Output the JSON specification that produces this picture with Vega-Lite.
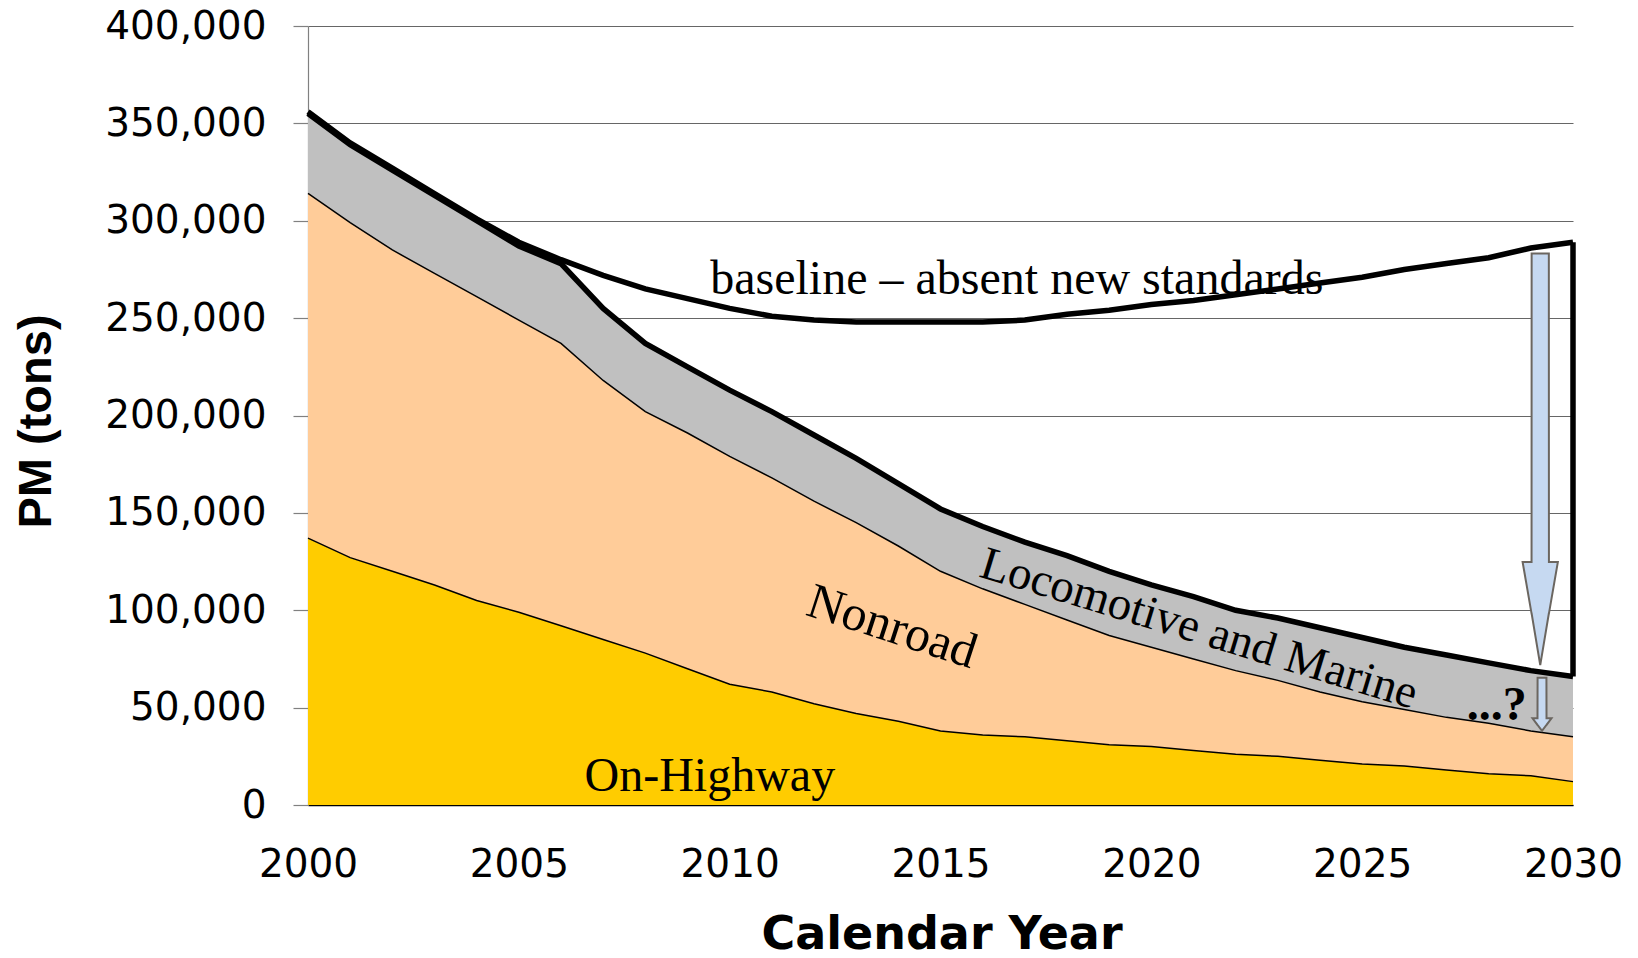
{
  "$schema": "https://vega.github.io/schema/vega-lite/v6.json",
  "width": 1265,
  "height": 779,
  "autosize": {"type": "none"},
  "padding": {"left": 308, "top": 26, "right": 65, "bottom": 153},
  "background": "white",
  "config": {"view": {"stroke": null}},
  "datasets": {
    "emissions": [
      {"year":2000,"source":"On-Highway","tons":137000},{"year":2000,"source":"Nonroad","tons":177000},{"year":2000,"source":"Locomotive and Marine","tons":41000},
      {"year":2001,"source":"On-Highway","tons":127000},{"year":2001,"source":"Nonroad","tons":172000},{"year":2001,"source":"Locomotive and Marine","tons":40000},
      {"year":2002,"source":"On-Highway","tons":120000},{"year":2002,"source":"Nonroad","tons":165000},{"year":2002,"source":"Locomotive and Marine","tons":41000},
      {"year":2003,"source":"On-Highway","tons":113000},{"year":2003,"source":"Nonroad","tons":160000},{"year":2003,"source":"Locomotive and Marine","tons":40000},
      {"year":2004,"source":"On-Highway","tons":105000},{"year":2004,"source":"Nonroad","tons":156000},{"year":2004,"source":"Locomotive and Marine","tons":39000},
      {"year":2005,"source":"On-Highway","tons":99000},{"year":2005,"source":"Nonroad","tons":150000},{"year":2005,"source":"Locomotive and Marine","tons":38000},
      {"year":2006,"source":"On-Highway","tons":92000},{"year":2006,"source":"Nonroad","tons":145000},{"year":2006,"source":"Locomotive and Marine","tons":41000},
      {"year":2007,"source":"On-Highway","tons":85000},{"year":2007,"source":"Nonroad","tons":133000},{"year":2007,"source":"Locomotive and Marine","tons":37000},
      {"year":2008,"source":"On-Highway","tons":78000},{"year":2008,"source":"Nonroad","tons":124000},{"year":2008,"source":"Locomotive and Marine","tons":35000},
      {"year":2009,"source":"On-Highway","tons":70000},{"year":2009,"source":"Nonroad","tons":121000},{"year":2009,"source":"Locomotive and Marine","tons":34000},
      {"year":2010,"source":"On-Highway","tons":62000},{"year":2010,"source":"Nonroad","tons":117000},{"year":2010,"source":"Locomotive and Marine","tons":34000},
      {"year":2011,"source":"On-Highway","tons":58000},{"year":2011,"source":"Nonroad","tons":110000},{"year":2011,"source":"Locomotive and Marine","tons":34000},
      {"year":2012,"source":"On-Highway","tons":52000},{"year":2012,"source":"Nonroad","tons":104000},{"year":2012,"source":"Locomotive and Marine","tons":34000},
      {"year":2013,"source":"On-Highway","tons":47000},{"year":2013,"source":"Nonroad","tons":98000},{"year":2013,"source":"Locomotive and Marine","tons":33000},
      {"year":2014,"source":"On-Highway","tons":43000},{"year":2014,"source":"Nonroad","tons":90000},{"year":2014,"source":"Locomotive and Marine","tons":32000},
      {"year":2015,"source":"On-Highway","tons":38000},{"year":2015,"source":"Nonroad","tons":82000},{"year":2015,"source":"Locomotive and Marine","tons":32000},
      {"year":2016,"source":"On-Highway","tons":36000},{"year":2016,"source":"Nonroad","tons":75000},{"year":2016,"source":"Locomotive and Marine","tons":32000},
      {"year":2017,"source":"On-Highway","tons":35000},{"year":2017,"source":"Nonroad","tons":68000},{"year":2017,"source":"Locomotive and Marine","tons":32000},
      {"year":2018,"source":"On-Highway","tons":33000},{"year":2018,"source":"Nonroad","tons":62000},{"year":2018,"source":"Locomotive and Marine","tons":33000},
      {"year":2019,"source":"On-Highway","tons":31000},{"year":2019,"source":"Nonroad","tons":56000},{"year":2019,"source":"Locomotive and Marine","tons":33000},
      {"year":2020,"source":"On-Highway","tons":30000},{"year":2020,"source":"Nonroad","tons":51000},{"year":2020,"source":"Locomotive and Marine","tons":32000},
      {"year":2021,"source":"On-Highway","tons":28000},{"year":2021,"source":"Nonroad","tons":47000},{"year":2021,"source":"Locomotive and Marine","tons":32000},
      {"year":2022,"source":"On-Highway","tons":26000},{"year":2022,"source":"Nonroad","tons":43000},{"year":2022,"source":"Locomotive and Marine","tons":31000},
      {"year":2023,"source":"On-Highway","tons":25000},{"year":2023,"source":"Nonroad","tons":39000},{"year":2023,"source":"Locomotive and Marine","tons":32000},
      {"year":2024,"source":"On-Highway","tons":23000},{"year":2024,"source":"Nonroad","tons":35000},{"year":2024,"source":"Locomotive and Marine","tons":33000},
      {"year":2025,"source":"On-Highway","tons":21000},{"year":2025,"source":"Nonroad","tons":32000},{"year":2025,"source":"Locomotive and Marine","tons":33000},
      {"year":2026,"source":"On-Highway","tons":20000},{"year":2026,"source":"Nonroad","tons":29000},{"year":2026,"source":"Locomotive and Marine","tons":32000},
      {"year":2027,"source":"On-Highway","tons":18000},{"year":2027,"source":"Nonroad","tons":27000},{"year":2027,"source":"Locomotive and Marine","tons":32000},
      {"year":2028,"source":"On-Highway","tons":16000},{"year":2028,"source":"Nonroad","tons":26000},{"year":2028,"source":"Locomotive and Marine","tons":31000},
      {"year":2029,"source":"On-Highway","tons":15000},{"year":2029,"source":"Nonroad","tons":23000},{"year":2029,"source":"Locomotive and Marine","tons":31000},
      {"year":2030,"source":"On-Highway","tons":12000},{"year":2030,"source":"Nonroad","tons":23000},{"year":2030,"source":"Locomotive and Marine","tons":31000}
    ],
    "baseline": [
      {"year":2000,"tons":356000},{"year":2001,"tons":340000},{"year":2002,"tons":327000},{"year":2003,"tons":314000},
      {"year":2004,"tons":301000},{"year":2005,"tons":289000},{"year":2006,"tons":280000},{"year":2007,"tons":272000},
      {"year":2008,"tons":265000},{"year":2009,"tons":260000},{"year":2010,"tons":255000},{"year":2011,"tons":251000},
      {"year":2012,"tons":249000},{"year":2013,"tons":248000},{"year":2014,"tons":248000},{"year":2015,"tons":248000},
      {"year":2016,"tons":248000},{"year":2017,"tons":249000},{"year":2018,"tons":252000},{"year":2019,"tons":254000},
      {"year":2020,"tons":257000},{"year":2021,"tons":259000},{"year":2022,"tons":262000},{"year":2023,"tons":265000},
      {"year":2024,"tons":268000},{"year":2025,"tons":271000},{"year":2026,"tons":275000},{"year":2027,"tons":278000},
      {"year":2028,"tons":281000},{"year":2029,"tons":286000},{"year":2030,"tons":289000}
    ],
    "closing": [{"year":2030,"tons":289000,"tons2":66000}],
    "bigArrow": [
      {"year":2028.805,"tons":124800,"tons2":124800},
      {"year":2029.017,"tons":124800,"tons2":98300},
      {"year":2029.019,"tons":283200,"tons2":98300},
      {"year":2029.223,"tons":283200,"tons2":71800},
      {"year":2029.427,"tons":283200,"tons2":98300},
      {"year":2029.429,"tons":124800,"tons2":98300},
      {"year":2029.641,"tons":124800,"tons2":124800}
    ],
    "smallArrow": [
      {"year":2029.040,"tons":44500,"tons2":44500},
      {"year":2029.158,"tons":44500,"tons2":41100},
      {"year":2029.160,"tons":65300,"tons2":41100},
      {"year":2029.265,"tons":65300,"tons2":38100},
      {"year":2029.370,"tons":65300,"tons2":41100},
      {"year":2029.372,"tons":44500,"tons2":41100},
      {"year":2029.490,"tons":44500,"tons2":44500}
    ]
  },
  "layer": [
    {
      "data": {"name": "emissions"},
      "transform": [{"stack": "tons", "groupby": ["year"], "sort": [{"field": "source", "order": "descending"}], "as": ["lo", "hi"]}],
      "mark": {"type": "area", "opacity": 1, "strokeWidth": 0},
      "encoding": {
        "x": {"field": "year", "type": "quantitative", "title": "Calendar Year",
              "scale": {"domain": [2000, 2030], "nice": false, "zero": false},
              "axis": {"values": [2000,2005,2010,2015,2020,2025,2030], "format": "d",
                       "grid": false, "ticks": false, "domainColor": "black", "domainWidth": 1.5,
                       "labelFont": "DejaVu Sans", "labelFontSize": 39, "labelColor": "black", "labelBaseline": "alphabetic",
                       "labelPadding": 71, "labelFlush": false, "labelOverlap": false,
                       "titleFont": "DejaVu Sans", "titleFontSize": 46, "titleFontWeight": "bold", "titleColor": "black",
                       "titleX": 633.5, "titleY": 143, "titleAlign": "center", "titleBaseline": "alphabetic"}},
        "y": {"field": "hi", "type": "quantitative", "title": "PM (tons)",
              "scale": {"domain": [0, 400000], "nice": false},
              "axis": {"values": [0,50000,100000,150000,200000,250000,300000,350000,400000], "format": ",d",
                       "grid": true, "gridColor": "#666666", "gridWidth": 1,
                       "domainColor": "#808080", "domainWidth": 1.2, "tickColor": "#808080", "tickSize": 15, "tickWidth": 1.2,
                       "labelFont": "DejaVu Sans", "labelFontSize": 39, "labelColor": "black", "labelPadding": 27, "labelOverlap": false,
                       "titleFont": "Liberation Sans", "titleFontSize": 47, "titleFontWeight": "bold", "titleColor": "black",
                       "titleAngle": -90, "titleX": -258, "titleY": 395, "titleAlign": "center", "titleBaseline": "alphabetic"}},
        "y2": {"field": "lo"},
        "color": {"field": "source", "type": "nominal",
                  "scale": {"domain": ["Locomotive and Marine", "Nonroad", "On-Highway"], "range": ["#C0C0C0", "#FFCC99", "#FFCC00"]},
                  "legend": null}
      }
    },
    {
      "data": {"name": "emissions"},
      "transform": [
        {"stack": "tons", "groupby": ["year"], "sort": [{"field": "source", "order": "descending"}], "as": ["lo", "hi"]},
        {"filter": "datum.source !== 'Locomotive and Marine'"}
      ],
      "mark": {"type": "line", "color": "black", "strokeWidth": 1.5},
      "encoding": {
        "x": {"field": "year", "type": "quantitative", "title": "Calendar Year"},
        "y": {"field": "hi", "type": "quantitative", "title": "PM (tons)"},
        "detail": {"field": "source"}
      }
    },
    {
      "data": {"name": "emissions"},
      "transform": [
        {"stack": "tons", "groupby": ["year"], "sort": [{"field": "source", "order": "descending"}], "as": ["lo", "hi"]},
        {"filter": "datum.source === 'Locomotive and Marine'"}
      ],
      "mark": {"type": "line", "color": "black", "strokeWidth": 5.5},
      "encoding": {
        "x": {"field": "year", "type": "quantitative", "title": "Calendar Year"},
        "y": {"field": "hi", "type": "quantitative", "title": "PM (tons)"}
      }
    },
    {
      "data": {"name": "baseline"},
      "mark": {"type": "line", "color": "black", "strokeWidth": 5.5},
      "encoding": {
        "x": {"field": "year", "type": "quantitative", "title": "Calendar Year"},
        "y": {"field": "tons", "type": "quantitative", "title": "PM (tons)"}
      }
    },
    {
      "data": {"name": "closing"},
      "mark": {"type": "rule", "color": "black", "strokeWidth": 5.5},
      "encoding": {
        "x": {"field": "year", "type": "quantitative", "title": "Calendar Year"},
        "y": {"field": "tons", "type": "quantitative", "title": "PM (tons)"},
        "y2": {"field": "tons2"}
      }
    },
    {
      "data": {"name": "bigArrow"},
      "mark": {"type": "area", "fill": "#C6D9F1", "opacity": 1, "stroke": "#6B6660", "strokeWidth": 2},
      "encoding": {
        "x": {"field": "year", "type": "quantitative", "title": "Calendar Year"},
        "y": {"field": "tons", "type": "quantitative", "title": "PM (tons)"},
        "y2": {"field": "tons2"}
      }
    },
    {
      "data": {"name": "smallArrow"},
      "mark": {"type": "area", "fill": "#C6D9F1", "opacity": 1, "stroke": "#6B6660", "strokeWidth": 2},
      "encoding": {
        "x": {"field": "year", "type": "quantitative", "title": "Calendar Year"},
        "y": {"field": "tons", "type": "quantitative", "title": "PM (tons)"},
        "y2": {"field": "tons2"}
      }
    },
    {
      "data": {"values": [{"year": 2016.81, "tons": 262600, "label": "baseline – absent new standards"}]},
      "mark": {"type": "text", "font": "Liberation Serif", "fontSize": 48, "align": "center", "baseline": "alphabetic", "color": "black"},
      "encoding": {
        "x": {"field": "year", "type": "quantitative", "title": "Calendar Year"},
        "y": {"field": "tons", "type": "quantitative", "title": "PM (tons)"},
        "text": {"field": "label"}
      }
    },
    {
      "data": {"values": [{"year": 2013.85, "tons": 91300, "label": "Nonroad"}]},
      "mark": {"type": "text", "font": "Liberation Serif", "fontSize": 50, "align": "center", "baseline": "middle", "angle": 18, "color": "black"},
      "encoding": {
        "x": {"field": "year", "type": "quantitative", "title": "Calendar Year"},
        "y": {"field": "tons", "type": "quantitative", "title": "PM (tons)"},
        "text": {"field": "label"}
      }
    },
    {
      "data": {"values": [{"year": 2021.13, "tons": 90300, "label": "Locomotive and Marine"}]},
      "mark": {"type": "text", "font": "Liberation Serif", "fontSize": 47, "align": "center", "baseline": "middle", "angle": 17, "color": "black"},
      "encoding": {
        "x": {"field": "year", "type": "quantitative", "title": "Calendar Year"},
        "y": {"field": "tons", "type": "quantitative", "title": "PM (tons)"},
        "text": {"field": "label"}
      }
    },
    {
      "data": {"values": [{"year": 2009.53, "tons": 7180, "label": "On-Highway"}]},
      "mark": {"type": "text", "font": "Liberation Serif", "fontSize": 48, "align": "center", "baseline": "alphabetic", "color": "black"},
      "encoding": {
        "x": {"field": "year", "type": "quantitative", "title": "Calendar Year"},
        "y": {"field": "tons", "type": "quantitative", "title": "PM (tons)"},
        "text": {"field": "label"}
      }
    },
    {
      "data": {"values": [{"year": 2027.48, "tons": 43600, "label": "...?"}]},
      "mark": {"type": "text", "font": "Liberation Serif", "fontSize": 48, "fontWeight": "bold", "align": "left", "baseline": "alphabetic", "color": "black"},
      "encoding": {
        "x": {"field": "year", "type": "quantitative", "title": "Calendar Year"},
        "y": {"field": "tons", "type": "quantitative", "title": "PM (tons)"},
        "text": {"field": "label"}
      }
    }
  ]
}
